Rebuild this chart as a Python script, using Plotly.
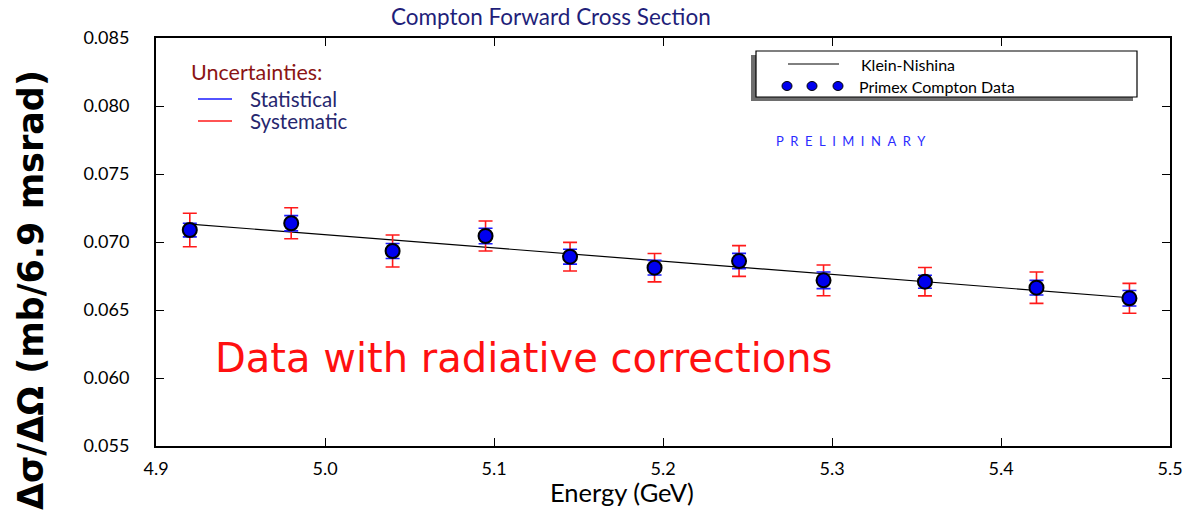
import plotly.graph_objects as go

# ---- data ----
energy = [4.920, 4.980, 5.040, 5.095, 5.145, 5.195, 5.245, 5.295, 5.355, 5.421, 5.476]
xsec = [0.07088, 0.07138, 0.06934, 0.07044, 0.06892, 0.06811, 0.06860, 0.06718, 0.06708, 0.06664, 0.06586]
stat_err = [0.00050, 0.00056, 0.00055, 0.00057, 0.00055, 0.00054, 0.00056, 0.00061, 0.00048, 0.00054, 0.00057]
syst_err = [0.00123, 0.00114, 0.00118, 0.00110, 0.00105, 0.00104, 0.00113, 0.00113, 0.00104, 0.00115, 0.00110]
kn_energy = [4.920, 5.476]
kn_xsec = [0.07132, 0.06590]
x_ticks = [4.9, 5.0, 5.1, 5.2, 5.3, 5.4, 5.5]
y_ticks = [0.055, 0.060, 0.065, 0.070, 0.075, 0.080, 0.085]

W, H = 1196, 518
L, R, T, B = 156, 1170, 38, 446


def px(x):
    return (x - L) / (R - L)


def py(y):
    return (B - y) / (B - T)


fig = go.Figure()

fig.add_trace(go.Scatter(
    x=kn_energy, y=kn_xsec, mode="lines",
    line=dict(color="black", width=1.2), showlegend=False, hoverinfo="skip"))

fig.add_trace(go.Scatter(
    x=energy, y=xsec, mode="markers",
    marker=dict(size=1, color="rgba(0,0,0,0)"),
    error_y=dict(type="data", array=syst_err, visible=True,
                 color="#ff1a1a", thickness=1.6, width=7),
    showlegend=False))

fig.add_trace(go.Scatter(
    x=energy, y=xsec, mode="markers",
    marker=dict(size=14, color="#0000ee", line=dict(color="black", width=2)),
    error_y=dict(type="data", array=stat_err, visible=True,
                 color="#1a1aff", thickness=1.6, width=7),
    showlegend=False))

axis_common = dict(
    showline=True, linecolor="black", linewidth=2, mirror="ticks",
    ticks="inside", ticklen=8, tickwidth=1.2, tickcolor="black",
    showgrid=False, zeroline=False,
    tickfont=dict(family="Lato, Open Sans, sans-serif", size=18, color="black"),
)

fig.update_xaxes(range=[4.9, 5.5], tickvals=x_ticks,
                 ticktext=[f"{v:.1f}" for v in x_ticks],
                 ticklabelstandoff=5, **axis_common)
fig.update_yaxes(range=[0.055, 0.085], tickvals=y_ticks,
                 ticktext=[f"{v:.3f}" for v in y_ticks],
                 ticklabelstandoff=21, **axis_common)

shapes = []
ann = []

# legend box with shadow
shapes.append(dict(type="rect", xref="paper", yref="paper",
                   x0=px(751), x1=px(1133), y0=py(101), y1=py(55),
                   fillcolor="#6e6e6e", line=dict(width=0), layer="above"))
shapes.append(dict(type="rect", xref="paper", yref="paper",
                   x0=px(756), x1=px(1137), y0=py(97), y1=py(51),
                   fillcolor="white", line=dict(color="black", width=1.2), layer="above"))
shapes.append(dict(type="line", xref="paper", yref="paper",
                   x0=px(788), x1=px(839), y0=py(64), y1=py(64),
                   line=dict(color="black", width=1), layer="above"))
for cx in (787, 812, 838):
    shapes.append(dict(type="circle", xref="paper", yref="paper",
                       x0=px(cx - 5), x1=px(cx + 5), y0=py(86 + 4.5), y1=py(86 - 4.5),
                       fillcolor="#0000ee", line=dict(color="black", width=1), layer="above"))
ann.append(dict(text="Klein-Nishina", xref="paper", yref="paper", x=px(859), y=py(64),
                xanchor="left", yanchor="middle", showarrow=False,
                font=dict(family="Lato, sans-serif", size=16, color="black")))
ann.append(dict(text="Primex Compton Data", xref="paper", yref="paper", x=px(857), y=py(86),
                xanchor="left", yanchor="middle", showarrow=False,
                font=dict(family="Lato, sans-serif", size=16, color="black")))

# uncertainties legend
shapes.append(dict(type="line", xref="paper", yref="paper",
                   x0=px(198), x1=px(232), y0=py(99), y1=py(99),
                   line=dict(color="#1a1aff", width=1.6)))
shapes.append(dict(type="line", xref="paper", yref="paper",
                   x0=px(198), x1=px(232), y0=py(121), y1=py(121),
                   line=dict(color="#ff1a1a", width=1.6)))
ann.append(dict(text="Uncertainties:", xref="paper", yref="paper", x=px(189), y=py(72),
                xanchor="left", yanchor="middle", showarrow=False,
                font=dict(family="Lato, sans-serif", size=21.5, color="#8b1414")))
ann.append(dict(text="Statistical", xref="paper", yref="paper", x=px(248), y=py(99),
                xanchor="left", yanchor="middle", showarrow=False,
                font=dict(family="Lato, sans-serif", size=20.5, color="#26266e")))
ann.append(dict(text="Systematic", xref="paper", yref="paper", x=px(248), y=py(121),
                xanchor="left", yanchor="middle", showarrow=False,
                font=dict(family="Lato, sans-serif", size=20.5, color="#26266e")))

# title
ann.append(dict(text="Compton Forward Cross Section", xref="paper", yref="paper",
                x=px(551), y=py(17), xanchor="center", yanchor="middle", showarrow=False,
                font=dict(family="Lato, sans-serif", size=22.5, color="#1f1f7a")))

# preliminary
ann.append(dict(text="&#8194;".join("PRELIMINARY"), xref="paper", yref="paper",
                x=px(851), y=py(141), xanchor="center", yanchor="middle", showarrow=False,
                font=dict(family="Lato, sans-serif", size=13, color="#2b2bff")))

# data note
ann.append(dict(text="Data with radiative corrections", xref="paper", yref="paper",
                x=px(523), y=py(358), xanchor="center", yanchor="middle", showarrow=False,
                font=dict(family="DejaVu Sans, sans-serif", size=40, color="#ff1010")))

# axis titles
ann.append(dict(text="Energy (GeV)", xref="paper", yref="paper",
                x=px(622), y=py(492), xanchor="center", yanchor="middle", showarrow=False,
                font=dict(family="Lato, sans-serif", size=25.5, color="black")))
ann.append(dict(text="<b>Δσ/ΔΩ (mb/6.9 msrad)</b>", xref="paper", yref="paper",
                x=px(31), y=py(290), xanchor="center", yanchor="middle", showarrow=False,
                textangle=-90,
                font=dict(family="DejaVu Sans, sans-serif", size=35, color="black")))

fig.update_layout(
    width=W, height=H,
    margin=dict(l=L, r=W - R, t=T, b=H - B),
    paper_bgcolor="white", plot_bgcolor="white",
    shapes=shapes, annotations=ann, showlegend=False,
)

fig.write_html("out.html")
